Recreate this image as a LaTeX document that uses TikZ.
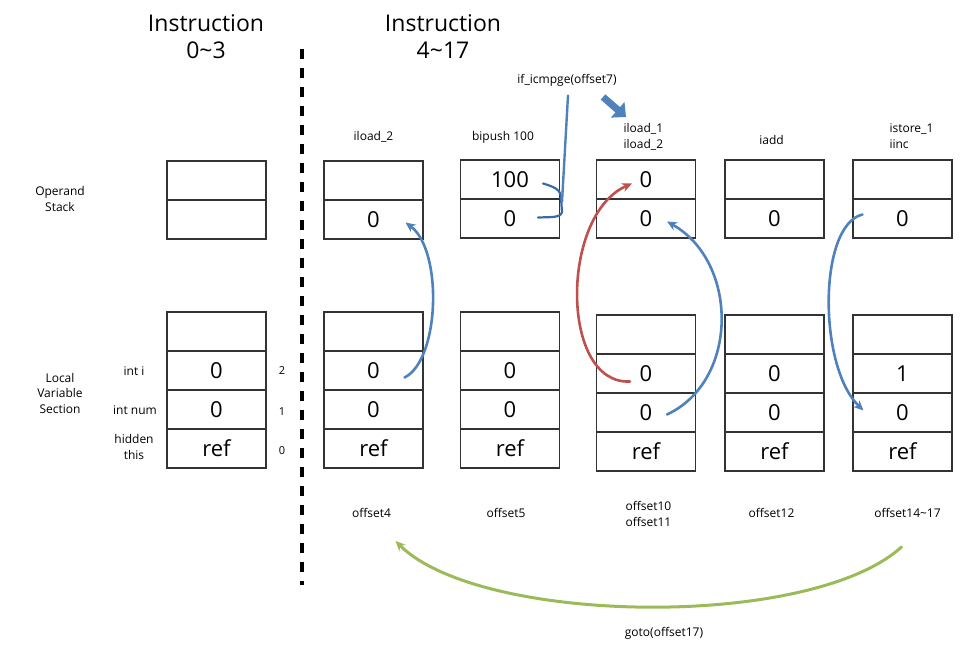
\documentclass[tikz,border=0pt]{standalone}
\usepackage{fontspec}
\setmainfont{Open Sans}
\usetikzlibrary{arrows.meta}
\definecolor{handblue}{HTML}{4F81BD}
\definecolor{darkblue}{HTML}{3A6AA3}
\definecolor{handred}{HTML}{C0504D}
\definecolor{handgreen}{HTML}{9BBB59}

\begin{document}
\begin{tikzpicture}[x=1pt, y=-1pt,
  cell/.style={rectangle, draw=black!80, line width=1.1pt, minimum width=99pt, minimum height=39pt, inner sep=0pt, outer sep=0pt, font=\fontsize{22}{24}\selectfont},
  heading/.style={font=\fontsize{23}{27}\selectfont, align=center},
  note/.style={font=\fontsize{12}{15.5}\selectfont, align=center},
  index/.style={font=\fontsize{11}{13}\selectfont},
  handarrow/.style={line width=2.6pt, line cap=round, -{Stealth[length=10pt,width=9pt]}}]
\useasboundingbox (0,0) rectangle (962,650);

% Headings and divider
\node[heading] (headA) at (206,37) {Instruction\\0\textasciitilde3};
\node[heading] (headB) at (443,37) {Instruction\\4\textasciitilde17};
\coordinate (divtop) at (302,49);
\coordinate (divbot) at (302,585);
\draw[line width=3.5pt, dash pattern=on 10pt off 9pt] (divtop) -- (divbot);

% Row labels
\node[note] (opnote) at (60,199) {Operand\\Stack};
\node[note] (lvnote) at (60,393) {Local\\Variable\\Section};
\node[note] (nameI) at (134,371) {int i};
\node[note] (nameNum) at (135,410) {int num};
\node[note] (nameThis) at (134,447) {hidden\\this};
\node[index] (idx2) at (282,371) {2};
\node[index] (idx1) at (282,412) {1};
\node[index] (idx0) at (282,451) {0};

% Boxes: instruction 0~3
\node[cell] (s0top) at (216.5,180.5) {};
\node[cell] (s0bot) at (216.5,219.5) {};
\node[cell] (v0free) at (216.5,331.5) {};
\node[cell] (v0i) at (216.5,370.5) {0};
\node[cell] (v0num) at (216.5,409.5) {0};
\node[cell] (v0this) at (216.5,448.5) {ref};

% Boxes: offset4
\node[cell] (s1top) at (373.5,180.5) {};
\node[cell] (s1bot) at (373.5,219.5) {0};
\node[cell] (v1free) at (373.5,331.5) {};
\node[cell] (v1i) at (373.5,370.5) {0};
\node[cell] (v1num) at (373.5,409.5) {0};
\node[cell] (v1this) at (373.5,448.5) {ref};

% Boxes: offset5
\node[cell] (s2top) at (510,179.5) {100};
\node[cell] (s2bot) at (510,218.5) {0};
\node[cell] (v2free) at (510,331.5) {};
\node[cell] (v2i) at (510,370.5) {0};
\node[cell] (v2num) at (510,409.5) {0};
\node[cell] (v2this) at (510,448.5) {ref};

% Boxes: offset10, offset11
\node[cell] (s3top) at (646,179.5) {0};
\node[cell] (s3bot) at (646,218.5) {0};
\node[cell] (v3free) at (646,334.5) {};
\node[cell] (v3i) at (646,373.5) {0};
\node[cell] (v3num) at (646,412.5) {0};
\node[cell] (v3this) at (646,451.5) {ref};

% Boxes: offset12
\node[cell] (s4top) at (774.5,179.5) {};
\node[cell] (s4bot) at (774.5,218.5) {0};
\node[cell] (v4free) at (774.5,334.5) {};
\node[cell] (v4i) at (774.5,373.5) {0};
\node[cell] (v4num) at (774.5,412.5) {0};
\node[cell] (v4this) at (774.5,451.5) {ref};

% Boxes: offset14~17
\node[cell] (s5top) at (902.5,179.5) {};
\node[cell] (s5bot) at (902.5,218.5) {0};
\node[cell] (v5free) at (902.5,334.5) {};
\node[cell] (v5i) at (902.5,373.5) {1};
\node[cell] (v5num) at (902.5,412.5) {0};
\node[cell] (v5this) at (902.5,451.5) {ref};

% Instructions
\node[note] (ins1) at (s1top.north) [yshift=24pt] {iload\_2};
\node[note] (ins2) at (s2top.north) [xshift=-7pt, yshift=23pt] {bipush 100};
\node[note, anchor=west, align=left] (ins3) at (620,137) {iload\_1\\iload\_2};
\node[note] (ins4) at (s4top.north) [xshift=-3pt, yshift=20pt] {iadd};
\node[note, anchor=west, align=left] (ins5) at (886,136) {istore\_1\\iinc};
\node[note] (ifcmp) at (567,80) {if\_icmpge(offset7)};

% Offsets
\node[note] (off1) at (v1this.south) [xshift=-2pt, yshift=-45pt] {offset4};
\node[note] (off2) at (v2this.south) [xshift=-4pt, yshift=-45pt] {offset5};
\node[note, anchor=west, align=left] (off3) at (622,514) {offset10\\offset11};
\node[note] (off4) at (v4this.south) [xshift=-3pt, yshift=-42pt] {offset12};
\node[note] (off5) at (v5this.south) [xshift=5pt, yshift=-42pt] {offset14\textasciitilde17};
\node[note] (gotonote) at (664,633) {goto(offset17)};

% Hand drawn arrows
\draw[handarrow, handblue] ([shift={(31,7)}]v1i.center) .. controls (440,360) and (443,250) .. ([shift={(32,3)}]s1bot.center);
\draw[handarrow, handred] ([shift={(-16,8)}]v3i.center) .. controls (560,385) and (560,215) .. ([shift={(-14,4)}]s3top.center);
\draw[handarrow, handblue] ([shift={(21,2)}]v3num.center) .. controls (739,381) and (739,262) .. ([shift={(21,3)}]s3bot.center);
\draw[handarrow, handblue] ([shift={(-40,-4)}]s5bot.center) .. controls (818,225) and (818,367) .. ([shift={(-39,-2)}]v5num.center);
\draw[handarrow, handgreen, line width=3pt] ([shift={(-6,34)}]off5.center) .. controls (810,630) and (480,625) .. ([shift={(24,28)}]off1.center);

% Compare bracket
\coordinate (fork) at (562,202);
\draw[line width=2.2pt, line cap=round, darkblue] ([shift={(33,4)}]s2top.center) .. controls (555,187) and (561,190) .. (561,198) -- (562,212) .. controls (561,218) and (550,217) .. ([shift={(28,-1)}]s2bot.center);
\draw[line width=2.4pt, line cap=round, handblue] ([shift={(1,6)}]ifcmp.south) -- (fork);
\draw[line width=7pt, handblue, -{Triangle[length=11pt,width=20pt]}] (603,97) -- (626,117);
\end{tikzpicture}
\end{document}
